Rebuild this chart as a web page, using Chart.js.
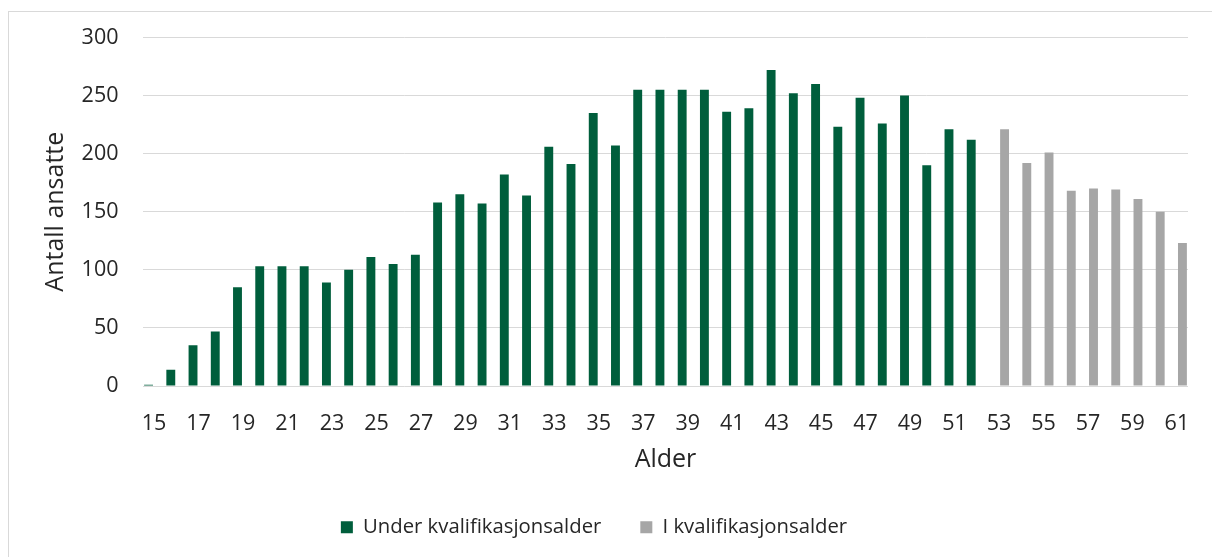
<!DOCTYPE html>
<html>
<head>
<meta charset="utf-8">
<script src="https://cdn.jsdelivr.net/npm/chart.js@4/dist/chart.umd.min.js"></script>
<style>
  html, body { margin: 0; padding: 0; background: #fff; }
  #wrap { position: relative; width: 1212px; height: 557px; overflow: hidden; }
  #frame { position: absolute; left: 8px; top: 11px; width: 1300px; height: 700px; border: 1px solid #d9d9d9; box-sizing: border-box; }
  canvas { position: absolute; left: 0; top: 0; }
</style>
</head>
<body>
<div id="wrap">
  <div id="frame"></div>
  <canvas id="c" width="1212" height="557"></canvas>
</div>
<script>
const ages = [15,16,17,18,19,20,21,22,23,24,25,26,27,28,29,30,31,32,33,34,35,36,37,38,39,40,41,42,43,44,45,46,47,48,49,50,51,52,53,54,55,56,57,58,59,60,61];
const underKval = [1,14,35,47,85,103,103,103,89,100,111,105,113,158,165,157,182,164,206,191,235,207,255,255,255,255,236,239,272,252,260,223,248,226,250,190,221,212,null,null,null,null,null,null,null,null,null];
const iKval = [null,null,null,null,null,null,null,null,null,null,null,null,null,null,null,null,null,null,null,null,null,null,null,null,null,null,null,null,null,null,null,null,null,null,null,null,null,null,221,192,201,168,170,169,161,150,123];
const yTicks = [0,50,100,150,200,250,300];
const seriesNames = ['Under kvalifikasjonsalder', 'I kvalifikasjonsalder'];

const FONT = "'Open Sans', 'Noto Sans', sans-serif";
const TXT = '#262626';

new Chart(document.getElementById('c'), {
  type: 'bar',
  data: {
    labels: ages.map(String),
    datasets: [
      { label: seriesNames[0], data: underKval, backgroundColor: '#005E3C', borderWidth: 0 },
      { label: seriesNames[1], data: iKval, backgroundColor: '#A6A6A6', borderWidth: 0 }
    ]
  },
  options: {
    responsive: false,
    animation: false,
    devicePixelRatio: 1,
    layout: { padding: { left: 0, right: 24, top: 33, bottom: 9.7 } },
    datasets: { bar: { categoryPercentage: 1.0, barPercentage: 0.8 } },
    plugins: {
      tooltip: { enabled: false },
      legend: {
        position: 'bottom',
        labels: {
          boxWidth: 12, boxHeight: 12, padding: 39,
          color: TXT, font: { family: FONT, size: 20.3 }
        }
      }
    },
    scales: {
      x: {
        grid: { display: false, drawTicks: true, tickLength: 24.5 },
        border: { display: false },
        ticks: {
          autoSkip: false, maxRotation: 0, minRotation: 0, padding: 0,
          color: TXT, font: { family: FONT, size: 21.5 },
          callback: function(v, i) { return i % 2 === 0 ? this.getLabelForValue(v) : ''; }
        },
        title: { display: true, text: 'Alder', color: TXT, font: { family: FONT, size: 25 }, padding: { top: 8.7, bottom: 3 } }
      },
      y: {
        min: 0, max: 300,
        afterBuildTicks: (s) => { s.ticks = yTicks.map(v => ({ value: v })); },
        afterFit: (s) => { s.width = 143; },
        grid: { color: '#d9d9d9', lineWidth: 1, drawTicks: false },
        border: { display: false },
        ticks: { padding: 24.5, color: TXT, font: { family: FONT, size: 21.5 } },
        title: { display: true, text: 'Antall ansatte', color: TXT, font: { family: FONT, size: 25 }, padding: { top: 41, bottom: 0 } }
      }
    }
  }
});
</script>
</body>
</html>
